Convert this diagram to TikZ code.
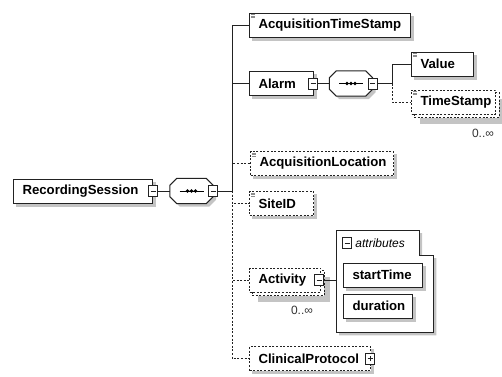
\documentclass[tikz,border=0pt]{standalone}
\usepackage{fontspec}
\usepackage{tikz}
\usetikzlibrary{backgrounds}
\newfontfamily\xsdfont{Liberation Sans}
\definecolor{shadowgray}{HTML}{C4C4C4}
\definecolor{markcolor}{HTML}{8C8C8C}
\definecolor{linecolor}{HTML}{222222}

\tikzset{
  elem/.style={draw=linecolor,fill=white,line width=1pt,anchor=west,minimum height=24pt,inner xsep=9pt,align=left,
    font=\xsdfont\bfseries\fontsize{13.2}{15}\selectfont},
  optional/.style={dash pattern=on 2pt off 1.6pt},
  toggle/.style={draw=linecolor,fill=white,line width=0.8pt,minimum width=9pt,minimum height=11pt,inner sep=0pt,
    path picture={\draw[line width=0.8pt] ([xshift=-2.5pt]path picture bounding box.center) -- ([xshift=2.5pt]path picture bounding box.center);}},
  plus/.style={path picture={\draw[line width=0.8pt] ([xshift=-2.5pt]path picture bounding box.center) -- ([xshift=2.5pt]path picture bounding box.center)
      ([yshift=-2.5pt]path picture bounding box.center) -- ([yshift=2.5pt]path picture bounding box.center);}},
  seqbox/.style={minimum width=43pt,minimum height=25pt,inner sep=0pt,
    path picture={\draw[line width=1pt] ([xshift=-12pt]path picture bounding box.center) -- ([xshift=12pt]path picture bounding box.center);
      \fill ([xshift=-4pt]path picture bounding box.center) circle (1.8pt)
            (path picture bounding box.center) circle (1.8pt)
            ([xshift=4pt]path picture bounding box.center) circle (1.8pt);}},
  conn/.style={draw=linecolor,line width=1pt},
  occurs/.style={font=\xsdfont\fontsize{12}{13}\selectfont,text=black!80},
  shade/.style={fill=shadowgray,transform canvas={shift={(3pt,-3pt)}}}
}
\newcommand\docmark[1]{\foreach \k in {2,3.5,5} {\draw[markcolor,line width=0.6pt] ([shift={(2,\k)}]#1.north west) -- ++(4,0);}}
\newcommand\octpath[1]{([xshift=7pt]#1.north west) -- ([xshift=-7pt]#1.north east) -- ([yshift=-7pt]#1.north east)
  -- ([yshift=7pt]#1.south east) -- ([xshift=-7pt]#1.south east) -- ([xshift=7pt]#1.south west)
  -- ([yshift=7pt]#1.south west) -- ([yshift=-7pt]#1.north west) -- cycle}
\newcommand\folderpath[1]{(#1.north west) -- ++(83,0) |- ([yshift=-25pt]#1.north east)
  -- (#1.south east) -- (#1.south west) -- cycle}

\begin{document}
\begin{tikzpicture}[x=1pt,y=-1pt]
\useasboundingbox (0,0) rectangle (502,376);

%% root and its sequence
\node[elem,text width=121pt] (rs) at (13,191) {RecordingSession};
\node[toggle] (rsT) at (rs.east) {};
\node[seqbox] (seq) at (191.5,191) {};
\node[toggle] (seqT) at (seq.east) {};
\coordinate (bus) at (232,191);

%% children
\node[elem,text width=143pt] (ats) at (249,25) {AcquisitionTimeStamp};
\node[elem,text width=46pt] (alarm) at (249,83.5) {Alarm};
\node[toggle] (alarmT) at ([xshift=-1pt]alarm.east) {};
\node[elem,optional,text width=125pt] (acqloc) at (250,163.5) {AcquisitionLocation};
\node[elem,optional,text width=46pt] (siteid) at (249,203.5) {SiteID};
\node[elem,optional,text width=53pt] (activity) at (249,280) {Activity};
\node[toggle] (activityT) at ([xshift=-2pt]activity.east) {};
\node[occurs] (actOcc) at (302,310) {0..∞};
\node[elem,optional,text width=103pt] (clin) at (249,358.5) {ClinicalProtocol};
\node[toggle,plus] (clinT) at ([xshift=-1pt]clin.east) {};

%% alarm sequence
\node[seqbox] (seqA) at (351,83.5) {};
\node[toggle] (seqAT) at (seqA.east) {};
\coordinate (busA) at (392,83.5);
\node[elem,text width=44pt] (value) at (411,64) {Value};
\node[elem,optional,text width=66pt] (tstamp) at (411,102) {TimeStamp};
\node[occurs] (tsOcc) at (483,133) {0..∞};

%% attributes of activity
\node[minimum width=97pt,minimum height=102pt,anchor=north west,inner sep=0pt] (attrs) at (336,230) {};
\node[toggle] (attrT) at (347,243) {};
\node[right,font=\xsdfont\itshape\fontsize{12}{13}\selectfont] (attrLabel) at (attrT.east) {attributes};
\node[elem,text width=61pt] (start) at (343,275) {startTime};
\node[elem,text width=51pt] (dur) at (343,306) {duration};

%% shadows, stacked copies, folder and compositors
\begin{scope}[on background layer]
\fill[shade] \folderpath{attrs};
\draw[conn,fill=white] \folderpath{attrs};
\foreach \n in {rs,ats,alarm,acqloc,siteid,clin,value,start,dur}
   \fill[shade] (\n.north west) rectangle (\n.south east);
\foreach \n in {activity,tstamp} {
   \fill[shade,transform canvas={shift={(6pt,-6pt)}}] (\n.north west) rectangle (\n.south east);
   \draw[conn,optional,fill=white] ([shift={(3,3)}]\n.north west) rectangle ([shift={(3,3)}]\n.south east);
}
\foreach \n in {seq,seqA} {
   \fill[shade] \octpath{\n};
   \draw[conn,fill=white] \octpath{\n};
}
\end{scope}

%% connectors
\foreach \n in {acqloc,siteid,activity,clin}
   \draw[conn,optional] (bus) |- (\n.west);
\draw[conn,optional] (busA) |- (tstamp.west);
\foreach \n in {ats,alarm}
   \draw[conn] (bus) |- (\n.west);
\draw[conn] (busA) |- (value.west);
\draw[conn] (rsT) -- (seq);
\draw[conn] (seqT) -- (bus);
\draw[conn] (alarmT) -- (seqA);
\draw[conn] (seqAT) -- (busA);
\draw[conn] (activityT.east) -- (activityT.east -| attrs.west);

\foreach \n in {ats,value,tstamp,acqloc,siteid}
   {\docmark{\n}}
\end{tikzpicture}
\end{document}
